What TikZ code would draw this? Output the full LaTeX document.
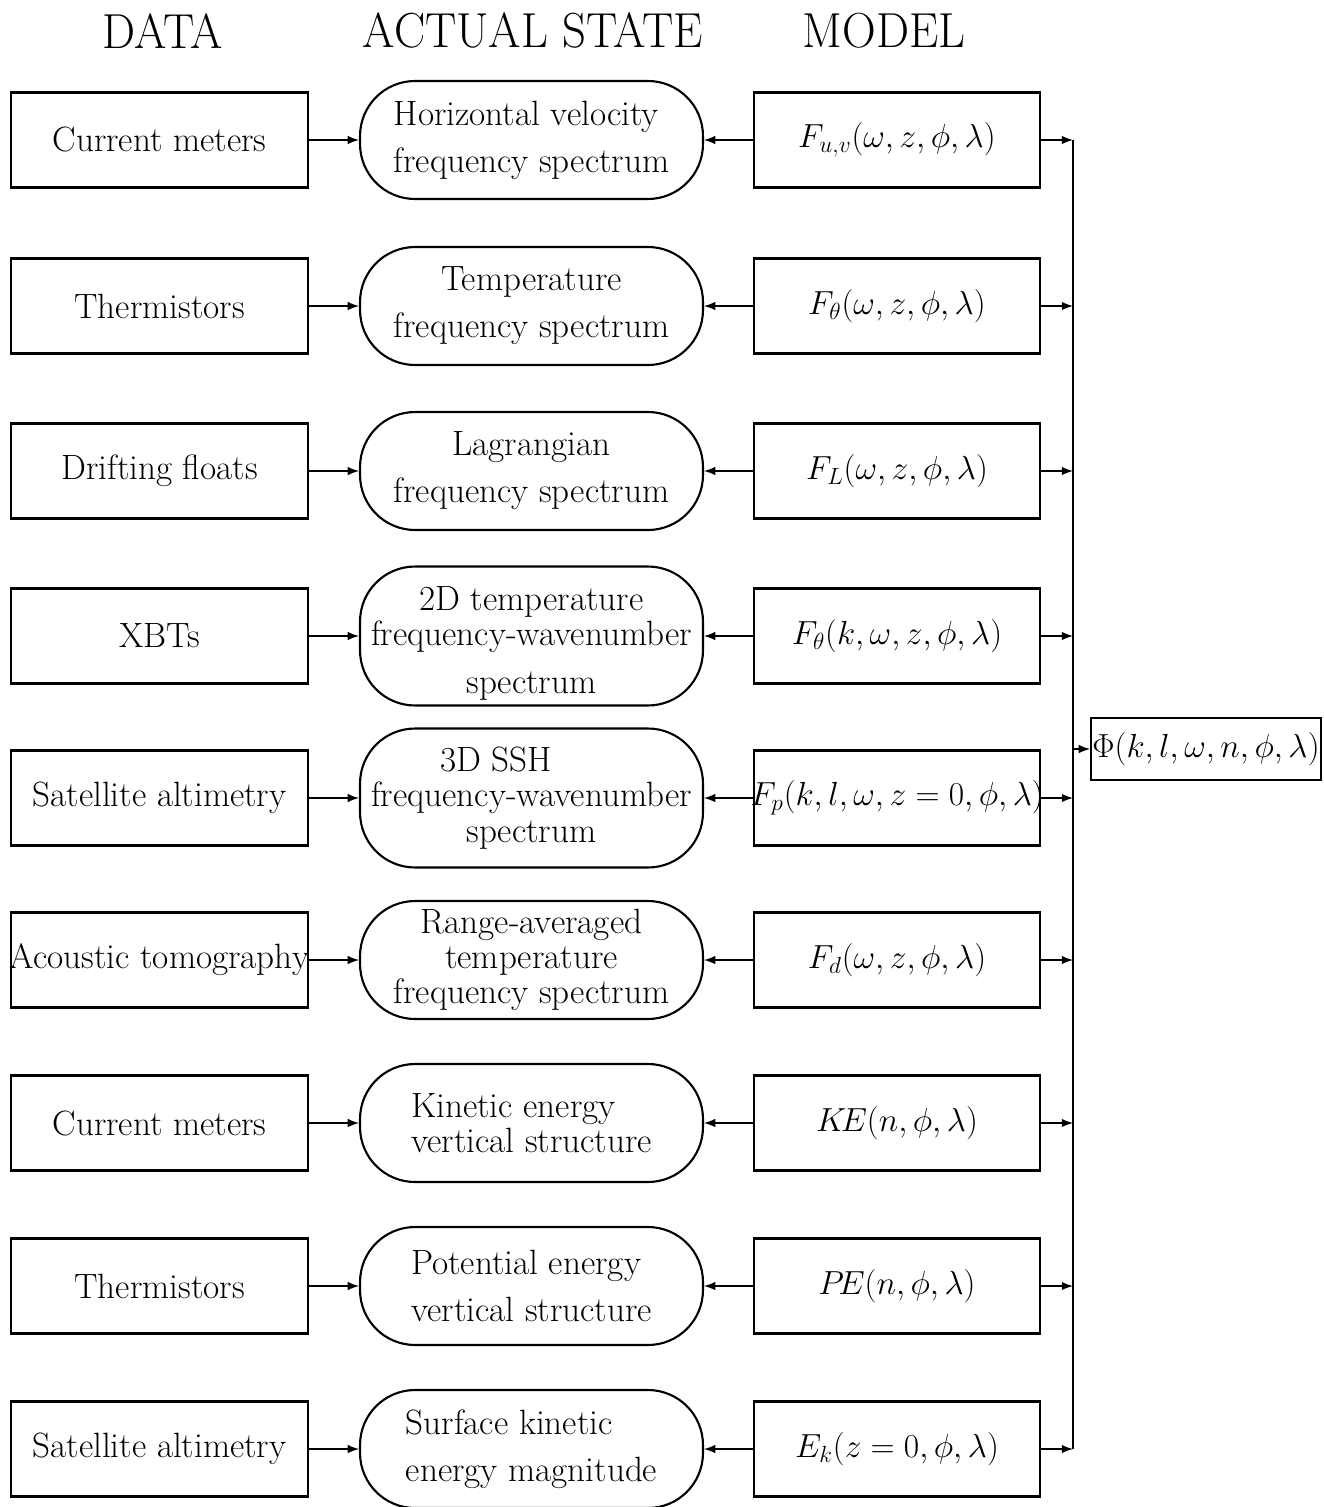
\documentclass[tikz,border=0pt]{standalone}
\usepackage{fix-cm}
\usepackage{amsmath}
\usepackage{graphicx}
\usetikzlibrary{arrows,positioning}

\newcommand{\bodyfont}{\fontsize{20}{26.7}\selectfont}
\newcommand{\tightfont}{\fontsize{20}{20}\selectfont}
\newcommand{\mathfont}{\fontsize{19}{22}\selectfont}
\newcommand{\headtext}[1]{\scalebox{0.95}[1]{#1}}

\begin{document}
\begin{tikzpicture}[x=0.02cm,y=-0.02cm,-latex,very thick,
                    data node/.style={rectangle,draw,minimum width=5.94cm,minimum height=1.9cm,inner sep=0pt,font=\bodyfont},
                    state node/.style={rectangle,draw,rounded corners=1.1cm,minimum width=6.86cm,minimum height=2.36cm,inner sep=0pt,align=center,font=\bodyfont},
                    model node/.style={rectangle,draw,minimum width=5.72cm,minimum height=1.9cm,inner sep=0pt,font=\mathfont},
                    head node/.style={font=\fontsize{28}{30}\selectfont}]
  \useasboundingbox (0,0) rectangle (1324,1507);

  %headings%
  \node[head node] (h1) at (163,31) {\headtext{DATA}};
  \node[head node] (h2) at (533,31) {\headtext{ACTUAL STATE}};
  \node[head node] (h3) at (884,31) {\headtext{MODEL}};

  %DATA%
  \node[data node] (d1) at (159.5,140) {Current meters};
  \node[data node] (d2) at (159.5,306) {Thermistors};
  \node[data node] (d3) at (159.5,471) {Drifting floats};
  \node[data node] (d4) at (159.5,636) {XBTs};
  \node[data node] (d5) at (159.5,798) {Satellite altimetry};
  \node[data node] (d6) at (159.5,960) {\makebox[0pt]{Acoustic tomography}};
  \node[data node] (d7) at (159.5,1123) {Current meters};
  \node[data node] (d8) at (159.5,1286) {Thermistors};
  \node[data node] (d9) at (159.5,1449) {Satellite altimetry};

  %ACTUAL STATE%
  \node[state node,align=left] (s1) at (531.5,140) {Horizontal velocity\\frequency spectrum};
  \node[state node] (s2) at (531.5,306) {Temperature\\frequency spectrum};
  \node[state node] (s3) at (531.5,471) {Lagrangian\\frequency spectrum};
  \node[state node,minimum height=2.78cm,font=\tightfont] (s4) at (531.5,636) {\rule{0pt}{22pt}2D temperature\\frequency-wavenumber\\[7pt]spectrum};
  \node[state node,minimum height=2.78cm,font=\tightfont] (s5) at (531.5,798) {3D SSH\hspace*{40pt}\\frequency-wavenumber\\spectrum};
  \node[state node,font=\tightfont] (s6) at (531.5,960) {Range-averaged\\temperature\\frequency spectrum};
  \node[state node,align=left,font=\tightfont] (s7) at (531.5,1123) {Kinetic energy\\vertical structure};
  \node[state node,align=left] (s8) at (531.5,1286) {Potential energy\\vertical structure};
  \node[state node,align=left] (s9) at (531.5,1449) {Surface kinetic\\energy magnitude};

  %MODEL%
  \node[model node] (m1) at (897,140) {$F_{u,v}(\omega,z,\phi,\lambda)$};
  \node[model node] (m2) at (897,306) {$F_\theta(\omega,z,\phi,\lambda)$};
  \node[model node] (m3) at (897,471) {$F_L(\omega,z,\phi,\lambda)$};
  \node[model node] (m4) at (897,636) {$F_\theta(k,\omega,z,\phi,\lambda)$};
  \node[model node] (m5) at (897,798) {\makebox[0pt]{$F_p(k,l,\omega,z=0,\phi,\lambda)$}};
  \node[model node] (m6) at (897,960) {$F_d(\omega,z,\phi,\lambda)$};
  \node[model node] (m7) at (897,1123) {$K\!E(n,\phi,\lambda)$};
  \node[model node] (m8) at (897,1286) {$P\!E(n,\phi,\lambda)$};
  \node[model node] (m9) at (897,1449) {$E_k(z=0,\phi,\lambda)$};

  \node[rectangle,draw,inner sep=0pt,minimum width=4.6cm,minimum height=1.24cm,font=\mathfont] (phi) at (1206,749) {\makebox[0pt]{$\Phi(k,l,\omega,n,\phi,\lambda)$}};

  \coordinate (top) at (1073,140);
  \coordinate (bot) at (1073,1449);
  \draw[-] (top) -- (bot);

  \draw (d1) -- (s1);  \draw (m1) -- (s1);  \draw (m1) -- (m1 -| top);
  \draw (d2) -- (s2);  \draw (m2) -- (s2);  \draw (m2) -- (m2 -| top);
  \draw (d3) -- (s3);  \draw (m3) -- (s3);  \draw (m3) -- (m3 -| top);
  \draw (d4) -- (s4);  \draw (m4) -- (s4);  \draw (m4) -- (m4 -| top);
  \draw (d5) -- (s5);  \draw (m5) -- (s5);  \draw (m5) -- (m5 -| top);
  \draw (d6) -- (s6);  \draw (m6) -- (s6);  \draw (m6) -- (m6 -| top);
  \draw (d7) -- (s7);  \draw (m7) -- (s7);  \draw (m7) -- (m7 -| top);
  \draw (d8) -- (s8);  \draw (m8) -- (s8);  \draw (m8) -- (m8 -| top);
  \draw (d9) -- (s9);  \draw (m9) -- (s9);  \draw (m9) -- (m9 -| top);
  \draw (phi -| top) -- (phi);
\end{tikzpicture}
\end{document}
